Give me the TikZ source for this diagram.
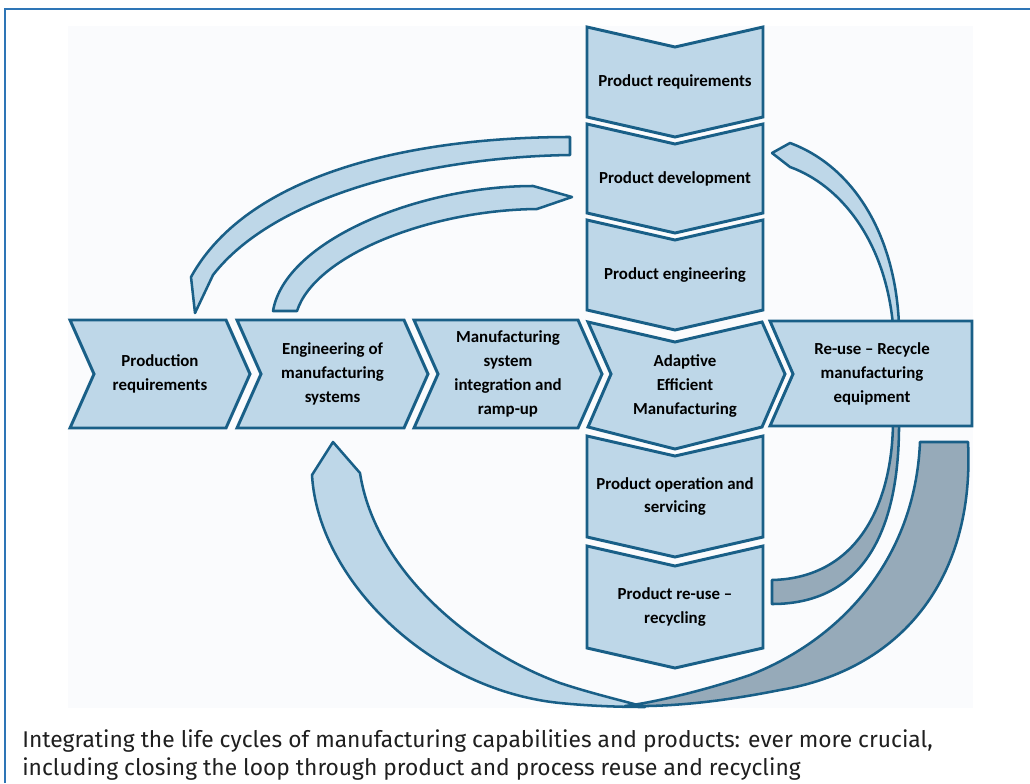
\documentclass[tikz,border=0pt]{standalone}
\usepackage{fontspec}
\setmainfont{Carlito}
\newfontfamily\captionfont{Fira Sans}
\usepackage{xcolor}
\definecolor{myframe}{RGB}{46,117,182}
\definecolor{myfill}{RGB}{190,215,232}
\definecolor{myline}{RGB}{25,95,135}
\definecolor{mygrey}{RGB}{150,170,185}
\definecolor{mypanel}{RGB}{250,251,253}
\usetikzlibrary{positioning}

\begin{document}
\begin{tikzpicture}[x=0.025cm,y=-0.025cm,
  chev/.style={draw=myline,fill=myfill,line width=2.1pt,line join=miter},
  band/.style={draw=myline,fill=myfill,line width=1.8pt,line join=round},
  greyband/.style={band,fill=mygrey},
  lbl/.style={font=\bfseries\fontsize{12}{17}\selectfont,align=center,inner sep=0pt},
  captxt/.style={font=\captionfont\fontsize{16.2}{20}\selectfont,text=black!88,inner sep=0pt,anchor=base west}]

\useasboundingbox (0,0) rectangle (1030,783);
\fill[mypanel] (68,26) rectangle (973,708);
\draw[myframe,line width=1.8pt] (5,783) -- (5,9) -- (1030,9);

% loops behind the chevrons
\draw[band] (312,475) .. controls (318,580) and (430,690) .. (560,703)
  .. controls (590,706) and (620,707) .. (645,707)
  .. controls (620,700) and (590,693) .. (560,683)
  .. controls (470,650) and (375,570) .. (360,473) -- (333,442) -- cycle;
\draw[greyband] (968,442) .. controls (975,580) and (900,670) .. (780,690)
  .. controls (720,702) and (670,707) .. (625,706)
  .. controls (650,703) and (700,692) .. (750,675)
  .. controls (840,640) and (915,560) .. (920,442) -- cycle;
\draw[band] (191,277) .. controls (250,170) and (420,137) .. (570,137) -- (570,155)
  .. controls (430,157) and (275,195) .. (213,275) -- (195,313) -- cycle;
\draw[band] (273,311) .. controls (285,240) and (420,186) .. (533,186) -- (572,197) -- (537,209)
  .. controls (430,210) and (315,255) .. (297,311) -- cycle;
\draw[band] (772,153) -- (790,143) .. controls (850,165) and (895,230) .. (899,325) -- (893,325)
  .. controls (885,240) and (840,185) .. (790,167) -- cycle;
\draw[greyband] (893,420) .. controls (893,500) and (860,578) .. (772,580) -- (772,604)
  .. controls (870,604) and (900,520) .. (899,420) -- cycle;

% horizontal row
\foreach \nm/\l/\r/\txt in {prodreq/70/226/{Production\\requirements},
    engsys/237/404/{Engineering of\\manufacturing\\systems},
    intsys/414/578/{Manufacturing\\system\\integration and\\ramp-up}}{
  \draw[chev] (\l,320) -- (\r,320) -- (\r+24,374) -- (\r,428) -- (\l,428) -- (\l+24,374) -- cycle;
  \node[lbl] (\nm) at ({(\l+\r)/2+12},374) {\txt};
}
\draw[chev] (588,322) -- (675,342) -- (762,322) -- (785,374) -- (762,427) -- (675,449) -- (588,427) -- (611,374) -- cycle;
\node[lbl] (aem) at (685,386) {Adaptive\\Efficient\\Manufacturing};
\draw[chev] (770,321) -- (972,321) -- (972,426) -- (770,426) -- (793,374) -- cycle;
\node[lbl] (reuse) at (872,374) {Re-use -- Recycle\\manufacturing\\equipment};

% vertical column
\foreach \nm/\t/\b/\txt in {prodreqs/27/117/{Product requirements},
    proddev/124/213/{Product development},
    prodeng/220/310/{Product engineering},
    prodop/436/537/{Product operation and\\servicing},
    prodrec/546/648/{Product re-use --\\recycling}}{
  \draw[chev] (587,\t) -- (675,\t+20) -- (763,\t) -- (763,\b) -- (675,\b+20) -- (587,\b) -- cycle;
  \node[lbl] (\nm) at (675,{(\t+\b)/2+10}) {\txt};
}

% caption
\node[captxt] (cap1) at (22,747) {Integrating the life cycles of manufacturing capabilities and products: ever more crucial,};
\node[captxt] (cap2) at (22,775) {including closing the loop through product and process reuse and recycling};
\end{tikzpicture}
\end{document}
